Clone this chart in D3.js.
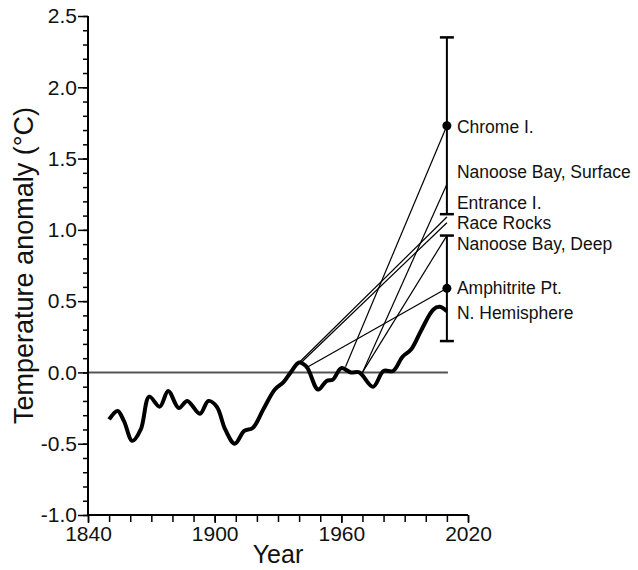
<!DOCTYPE html>
<html>
<head>
<meta charset="utf-8">
<script src="https://cdn.jsdelivr.net/npm/d3@7"></script>
<style>
  body { margin: 0; background: #fff; }
  svg { font-family: "Liberation Sans", Arial, sans-serif; }
</style>
</head>
<body>
<script>
// Chart size
const width = 638;
const height = 570;
const margin = { top: 16, right: 170, bottom: 55, left: 88 };

// Northern Hemisphere anomaly (smoothed)
const nhYears = [1850, 1854, 1857, 1861, 1865, 1869, 1874, 1878, 1883, 1887, 1893, 1897,
  1901, 1905, 1909.5, 1914, 1918, 1923, 1928.5, 1932.5, 1936, 1940, 1943.5, 1949, 1953,
  1956, 1960, 1964.5, 1968.5, 1975, 1980, 1984.5, 1989, 1993, 1998, 2003.5, 2006.5, 2010];
const nhValues = [-0.33, -0.27, -0.34, -0.48, -0.40, -0.17, -0.24, -0.13, -0.25, -0.20, -0.29, -0.20,
  -0.24, -0.40, -0.50, -0.41, -0.39, -0.26, -0.12, -0.07, 0.00, 0.07, 0.04, -0.12, -0.06,
  -0.05, 0.03, 0.00, 0.00, -0.10, 0.01, 0.01, 0.11, 0.16, 0.30, 0.44, 0.46, 0.43];

// Station trends: start on the NH curve, end in 2010
const stations = ["Chrome I.", "Nanoose Bay, Surface", "Entrance I.", "Race Rocks", "Nanoose Bay, Deep", "Amphitrite Pt."];
const startYears = [1962, 1970, 1940, 1941, 1970, 1943];
const startValues = [0.04, 0.00, 0.07, 0.07, 0.00, 0.03];
const endValues = [1.73, 1.32, 1.09, 1.05, 0.96, 0.59];
const endYear = 2010;

// Error bars (centre, half width) for Chrome I. and Amphitrite Pt.
const barCentres = [1.73, 0.59];
const barHalf = [0.62, 0.37];

// Label list and where the labels sit (in °C)
const labels = ["Chrome I.", "Nanoose Bay, Surface", "Entrance I.", "Race Rocks", "Nanoose Bay, Deep", "Amphitrite Pt.", "N. Hemisphere"];
const labelAt = [1.72, 1.41, 1.19, 1.05, 0.90, 0.59, 0.42];

// Axis ticks
const yMajor = [-1.0, -0.5, 0.0, 0.5, 1.0, 1.5, 2.0, 2.5];
const xMajor = [1840, 1900, 1960, 2020];

const svg = d3.select('body')
  .append('svg')
  .attr('width', width)
  .attr('height', height);

const x = d3.scaleLinear()
  .domain([1840, 2020])
  .range([margin.left, width - margin.right]);

const y = d3.scaleLinear()
  .domain([-1, 2.5])
  .range([height - margin.bottom, margin.top]);

// zero line
svg.append('line')
  .attr('x1', x(1840)).attr('x2', x(2010.5))
  .attr('y1', y(0)).attr('y2', y(0))
  .attr('stroke', '#555').attr('stroke-width', 2);

// minor ticks first, then major ones with labels
svg.append('g')
  .attr('transform', `translate(${x(1840)},0)`)
  .call(d3.axisLeft(y).tickValues(d3.range(-10, 26).map(d => d / 10)).tickSize(5).tickFormat(''))
  .call(g => g.select('.domain').remove())
  .call(g => g.selectAll('line').attr('stroke-width', 1.5));

svg.append('g')
  .attr('transform', `translate(${x(1840)},0)`)
  .call(d3.axisLeft(y).tickValues(yMajor).tickSize(10).tickPadding(1).tickFormat(d => d.toFixed(1)))
  .call(g => g.select('.domain').attr('stroke-width', 2).attr('d', `M0,${y(-1)}V${y(2.5)}`))
  .call(g => g.selectAll('line').attr('stroke-width', 1.5))
  .call(g => g.selectAll('text').attr('font-size', 21).attr('font-family', 'Liberation Sans, Arial, sans-serif').attr('fill', '#111'));

svg.append('g')
  .attr('transform', `translate(0,${y(-1)})`)
  .call(d3.axisBottom(x).tickValues(d3.range(1840, 2021, 10)).tickSize(7).tickFormat(''))
  .call(g => g.select('.domain').remove())
  .call(g => g.selectAll('line').attr('stroke-width', 1.5));

svg.append('g')
  .attr('transform', `translate(0,${y(-1)})`)
  .call(d3.axisBottom(x).tickValues(xMajor).tickSize(8).tickPadding(3).tickFormat(d3.format('d')))
  .call(g => g.select('.domain').attr('stroke-width', 2).attr('d', `M${x(1840)},0H${x(2020)}`))
  .call(g => g.selectAll('line').attr('stroke-width', 1.5))
  .call(g => g.selectAll('text').attr('font-size', 21).attr('font-family', 'Liberation Sans, Arial, sans-serif').attr('fill', '#111'));

// axis titles
svg.append('text')
  .attr('x', x(1930))
  .attr('y', 563)
  .attr('text-anchor', 'middle')
  .attr('font-size', 25)
  .attr('fill', '#111')
  .text('Year');

svg.append('text')
  .attr('transform', `translate(33, ${y(0.75)}) rotate(-90)`)
  .attr('text-anchor', 'middle')
  .attr('font-size', 27)
  .attr('fill', '#111')
  .text('Temperature anomaly (°C)');

// station trend lines
svg.append('g')
  .selectAll('line')
  .data(stations)
  .enter()
  .append('line')
  .attr('x1', (d, i) => x(startYears[i]))
  .attr('y1', (d, i) => y(startValues[i]))
  .attr('x2', x(endYear))
  .attr('y2', (d, i) => y(endValues[i]))
  .attr('stroke', '#000')
  .attr('stroke-width', 1.2);

// NH curve
const line = d3.line()
  .x((d, i) => x(nhYears[i]))
  .y(d => y(d))
  .curve(d3.curveCatmullRom);

svg.append('path')
  .datum(nhValues)
  .attr('d', line)
  .attr('fill', 'none')
  .attr('stroke', '#000')
  .attr('stroke-width', 4)
  .attr('stroke-linejoin', 'round');

// error bars
const bars = svg.append('g')
  .selectAll('g')
  .data(barCentres)
  .enter()
  .append('g');

bars.append('line')
  .attr('x1', x(endYear)).attr('x2', x(endYear))
  .attr('y1', (d, i) => y(d + barHalf[i]))
  .attr('y2', (d, i) => y(d - barHalf[i]))
  .attr('stroke', '#000').attr('stroke-width', 2);

bars.selectAll('.cap')
  .data((d, i) => [d + barHalf[i], d - barHalf[i]])
  .enter()
  .append('line')
  .attr('x1', x(endYear) - 7).attr('x2', x(endYear) + 7)
  .attr('y1', d => y(d)).attr('y2', d => y(d))
  .attr('stroke', '#000').attr('stroke-width', 2.5);

bars.append('circle')
  .attr('cx', x(endYear))
  .attr('cy', d => y(d))
  .attr('r', 4.5)
  .attr('fill', '#000');

// labels
svg.append('g')
  .selectAll('text')
  .data(labels)
  .enter()
  .append('text')
  .attr('x', x(endYear) + 10)
  .attr('y', (d, i) => y(labelAt[i]))
  .attr('dy', '0.35em')
  .attr('font-size', 17.5)
  .attr('fill', '#111')
  .text(d => d);
</script>
</body>
</html>
